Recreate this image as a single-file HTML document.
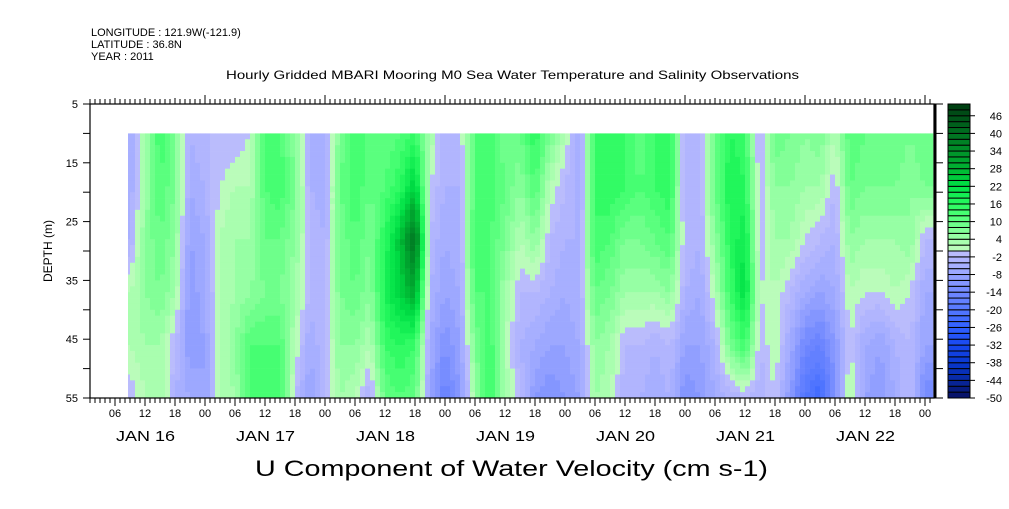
<!DOCTYPE html>
<html><head><meta charset="utf-8">
<style>
body{margin:0;background:#fff;width:1009px;height:504px;overflow:hidden;font-family:"Liberation Sans",sans-serif}
svg text{font-family:"Liberation Sans",sans-serif;fill:#000}
</style></head><body>
<svg id="chart" width="1009" height="504" viewBox="0 0 1009 504" xmlns="http://www.w3.org/2000/svg">
<text x="91" y="36" font-size="11">LONGITUDE : 121.9W(-121.9)</text>
<text x="91" y="48" font-size="11">LATITUDE : 36.8N</text>
<text x="91" y="60" font-size="11">YEAR : 2011</text>
<text x="226" y="79" font-size="12" textLength="573" lengthAdjust="spacingAndGlyphs">Hourly Gridded MBARI Mooring M0 Sea Water Temperature and Salinity Observations</text>
<text x="255" y="476" font-size="22" textLength="513" lengthAdjust="spacingAndGlyphs">U Component of Water Velocity (cm s-1)</text>
<text transform="translate(52,251) rotate(-90)" font-size="12" text-anchor="middle">DEPTH (m)</text>
<g id="heat"></g>
<g id="axes"></g>
<g id="cbar"></g>
</svg>
<script>
const hours=[9,12,15,18,21,24,27,30,33,36,39,42,45,48,51,54,57,60,63,66,69,72,75,78,81,84,87,90,93,96,99,102,105,108,111,114,117,120,123,126,129,132,135,138,141,144,147,150,153,156,159,162,165,168];
const depths=[10,19,28,37,46,55];
const values=[
[-6,-6,-4,2,2,-2],[4,4,6,6,4,2],[14,12,10,8,4,4],[8,8,6,4,-2,-4],[-4,-6,-8,-10,-10,-6],[-2,-4,-6,-6,-8,-8],
[-2,0,2,2,2,2],[-2,2,4,4,6,4],[0,2,4,6,12,12],[14,12,10,8,12,14],[12,14,10,8,12,14],[6,8,6,4,2,-2],
[-4,-4,-2,-2,-6,-8],[-6,-6,-4,-4,-2,-2],[8,10,8,8,6,4],[14,14,12,10,6,2],[10,10,8,6,2,-4],[10,12,16,18,14,10],
[12,16,26,24,16,12],[14,24,40,30,14,10],[4,0,-2,-4,-6,-8],[-4,-4,-6,-8,-12,-16],[-2,-4,-4,-6,-8,-10],[12,12,14,12,8,4],
[14,14,12,12,14,16],[8,10,8,4,2,4],[10,6,2,-2,-4,-2],[16,12,6,-2,-6,-10],[8,2,-2,-4,-8,-12],[2,-2,-4,-6,-8,-10],
[-6,-6,-4,-4,-6,-8],[14,14,14,10,6,4],[16,16,12,8,4,2],[14,14,8,4,-2,-4],[10,12,8,4,-2,-4],[14,14,10,4,-4,-6],
[16,16,12,6,-2,-4],[-4,-4,-2,-4,-8,-12],[-4,-4,-4,-6,-8,-10],[10,10,6,2,-4,-6],[16,18,16,14,8,-4],[14,16,20,22,14,-2],
[-4,-2,-2,0,-2,-4],[10,6,4,2,2,0],[8,6,4,-2,-6,-10],[6,4,0,-6,-14,-20],[8,4,-2,-8,-16,-24],[2,-2,-4,-6,-10,-12],
[12,10,6,2,0,4],[10,8,4,0,-6,-8],[8,8,4,0,-8,-10],[10,8,4,2,-4,-6],[8,6,6,0,-2,-2],[10,8,-2,-6,-8,-14]];
const cbLabels=[46,40,34,28,22,16,10,4,-2,-8,-14,-20,-26,-32,-38,-44,-50];
const yTicks=[5,15,25,35,45,55];
const hourLabels=["06","12","18","00"];
const dayLabels=["JAN 16","JAN 17","JAN 18","JAN 19","JAN 20","JAN 21","JAN 22"];

const NS="http://www.w3.org/2000/svg";
const X0=90,X1=934,Y0=104,Y1=398;
const xs=h=>85+5*h;
const ys=d=>Y0+(d-5)/50*(Y1-Y0);
const stops=[[-50,[8,16,96]],[-44,[8,40,160]],[-38,[8,56,208]],[-32,[24,72,240]],[-26,[48,96,255]],[-20,[85,120,255]],[-14,[112,136,255]],[-8,[152,164,255]],[-4,[172,178,255]],[-1,[186,188,252]],
[1,[186,252,186]],[4,[160,255,170]],[8,[120,255,145]],[12,[80,255,120]],[16,[40,250,95]],[22,[0,225,70]],[28,[0,180,50]],[34,[0,145,42]],[40,[0,112,32]],[46,[0,80,24]],[50,[0,58,16]]];
function col(v){
  let q=Math.floor(v/2)*2+1; q=Math.max(-49,Math.min(49,q));
  for(let i=0;i<stops.length-1;i++){const a=stops[i],b=stops[i+1];
    if(q>=a[0]&&q<=b[0]){const t=(q-a[0])/(b[0]-a[0]);
      return "rgb("+a[1].map((c,k)=>Math.round(c+(b[1][k]-c)*t)).join(",")+")";}}
  return q<0?"rgb(8,16,96)":"rgb(0,58,16)";
}
function mk(tag,attrs,parent){const e=document.createElementNS(NS,tag);for(const k in attrs)e.setAttribute(k,attrs[k]);parent.appendChild(e);return e;}
function prof(ci,d){for(let j=0;j<depths.length-1;j++){if(d<=depths[j+1]){const t=(d-depths[j])/(depths[j+1]-depths[j]);return values[ci][j]+(values[ci][j+1]-values[ci][j])*t;}}return values[ci][depths.length-1];}
const heat=document.getElementById('heat');
const hStart=hours[0]-0.4,hEnd=hours[hours.length-1]+1.6;
for(let h=Math.floor(hStart);h<hEnd;h++){
  let hc=Math.max(hours[0],Math.min(hours[hours.length-1],h+0.5));
  let i=0;while(i<hours.length-2&&hours[i+1]<hc)i++;
  const t=(hc-hours[i])/(hours[i+1]-hours[i]);
  let xa=Math.max(xs(h),128),xb=Math.min(xs(h+1),933);
  if(xb<=xa)continue;
  for(let d=depths[0];d<depths[depths.length-1];d++){
    const v=prof(i,d+0.5)*(1-t)+prof(i+1,d+0.5)*t;
    const r=mk('rect',{x:xa,y:ys(d),width:xb-xa+0.3,height:ys(d+1)-ys(d)+0.3,fill:col(v)},heat);
    
    
  }
}
const ax=document.getElementById('axes');
mk('rect',{x:X0,y:Y0,width:X1-X0,height:Y1-Y0,fill:'none',stroke:'#000','stroke-width':1.2},ax);
mk('line',{x1:X1+1,y1:Y0,x2:X1+1,y2:Y1,stroke:'#000','stroke-width':3},ax);
for(let d=5;d<=55;d+=5){
  mk('line',{x1:X0-7,y1:ys(d),x2:X0,y2:ys(d),stroke:'#000'},ax);
  mk('line',{x1:X1,y1:ys(d),x2:X1+9,y2:ys(d),stroke:'#000'},ax);
}
yTicks.forEach(d=>{const t=mk('text',{x:78,y:ys(d)+4,'font-size':11,'text-anchor':'end'},ax);t.textContent=d;
  });
for(let h=1;h*5+85<=X1;h++){
  const x=xs(h),maj=h%6===0,day=h%24===0;
  mk('line',{x1:x,y1:Y1,x2:x,y2:Y1+(maj?8:5),stroke:'#000'},ax);
  mk('line',{x1:x,y1:Y0,x2:x,y2:Y0-(day?9:maj?6:5),stroke:'#000'},ax);
  if(maj){const t=mk('text',{x:x,y:Y1+19,'font-size':11,'text-anchor':'middle'},ax);t.textContent=hourLabels[(h/6-1)%4];
    }
}
dayLabels.forEach((s,i)=>{const t=mk('text',{x:xs(12+24*i)-29,y:Y1+43,'font-size':15,textLength:59,lengthAdjust:'spacingAndGlyphs'},ax);t.textContent=s;
  });
const cb=document.getElementById('cbar');
const cy=v=>Y0+(50-v)/100*(Y1-Y0);
for(let v=-50;v<50;v+=2){
  const r=mk('rect',{x:948,y:cy(v+2),width:22,height:cy(v)-cy(v+2),fill:col(v+1),stroke:'#000','stroke-width':1},cb);
  
}
cbLabels.forEach(v=>{mk('line',{x1:970,y1:cy(v),x2:975,y2:cy(v),stroke:'#000'},cb);
  const t=mk('text',{x:1002,y:cy(v)+4,'font-size':11,'text-anchor':'end'},cb);t.textContent=v;
  });
</script>
</body></html>
